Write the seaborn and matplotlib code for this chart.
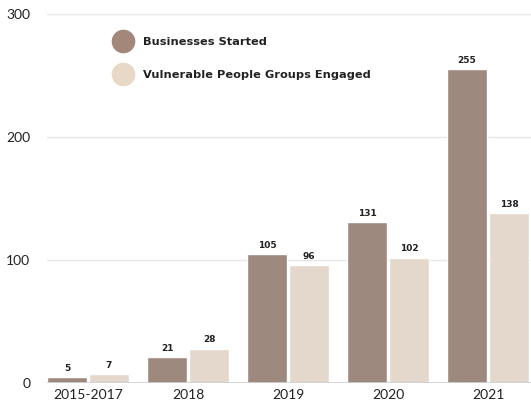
import pandas as pd
import matplotlib.pyplot as plt
import seaborn as sns
from matplotlib.lines import Line2D

# Chart data
periods = ['2015-2017', '2018', '2019', '2020', '2021']
businesses = [5, 21, 105, 131, 255]
vulnerable = [7, 28, 96, 102, 138]
series_names = ['Businesses Started', 'Vulnerable People Groups Engaged']
colors = ['#a3877a', '#e8d8c8']

df = pd.DataFrame({
    'period': periods * 2,
    'value': businesses + vulnerable,
    'series': [series_names[0]] * len(periods) + [series_names[1]] * len(periods),
})

sns.set_style('white')
plt.rcParams['font.family'] = ['Lato', 'DejaVu Sans']

fig = plt.figure(figsize=(5.31, 4.07), dpi=100)
ax = fig.add_axes([47 / 531, 24 / 407, 1 - 47 / 531, (383 - 14) / 407])

sns.barplot(data=df, x='period', y='value', hue='series', palette=colors,
            width=0.84, gap=0.05, ax=ax, legend=False, zorder=3)

for cont in ax.containers:
    ax.bar_label(cont, fmt='%d', padding=3, fontsize=6.5, fontweight='bold',
                 color='#222222', family='DejaVu Sans')

ax.set_xlim(-0.41, 4.43)
ax.set_ylim(0, 300)
ax.set_yticks([0, 100, 200, 300])
ax.yaxis.grid(True, color='#e6e6e6', linewidth=1, zorder=0)
ax.set_xlabel('')
ax.set_ylabel('')
for s in ax.spines.values():
    s.set_visible(False)
ax.axhline(0, color='#d0d0d0', linewidth=1.2, zorder=4)
ax.tick_params(axis='y', length=0, pad=12, labelsize=10, labelcolor='#222222')
ax.tick_params(axis='x', length=0, pad=4, labelsize=10, labelcolor='#222222')

handles = [Line2D([0], [0], marker='o', linestyle='', markersize=16,
                  markerfacecolor=c, markeredgecolor=c) for c in colors]
leg = ax.legend(handles, series_names, loc='upper left', bbox_to_anchor=(0.112, 0.965),
                frameon=False, handletextpad=0.75, labelspacing=2.0,
                prop={'size': 8.2, 'weight': 'bold', 'family': 'DejaVu Sans'})
for t in leg.get_texts():
    t.set_color('#222222')

fig.savefig('out.png', dpi=100)
